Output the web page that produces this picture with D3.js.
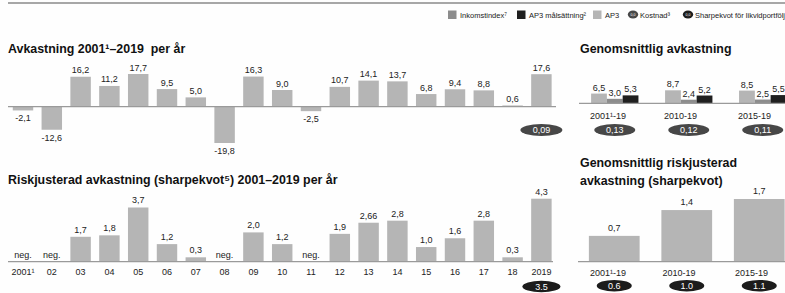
<!DOCTYPE html>
<html><head><meta charset="utf-8">
<script src="https://cdn.jsdelivr.net/npm/d3@7"></script>
<style>
html,body{margin:0;padding:0;background:#fff;}
svg{display:block;font-family:"Liberation Sans",Arial,Helvetica,sans-serif;}
text{white-space:pre;}
</style></head>
<body><svg id="c" width="785" height="293"></svg>
<script>
// ---- data ----
const years = ["2001¹","02","03","04","05","06","07","08","09","10","11","12","13","14","15","16","17","18","2019"];
const returns = [-2.1,-12.6,16.2,11.2,17.7,9.5,5.0,-19.8,16.3,9.0,-2.5,10.7,14.1,13.7,6.8,9.4,8.8,0.6,17.6];
const sharpe = [null,null,1.7,1.8,3.7,1.2,0.3,null,2.0,1.2,null,1.9,2.66,2.8,1.0,1.6,2.8,0.3,4.3];
const cost2019 = "0,09";
const liquidSharpe2019 = "3.5";
const periods = ["2001¹-19","2010-19","2015-19"];
const ap3Avg = [6.5,8.7,8.5];
const incomeIdx = [3.0,2.4,2.5];
const target = [5.3,5.2,5.5];
const costAvg = ["0,13","0,12","0,11"];
const avgSharpe = [0.7,1.4,1.7];
const liquidSharpeAvg = ["0.6","1.0","1.1"];
const legendItems = [
  {label:"Inkomstindex⁷", kind:"rect", key:"inc"},
  {label:"AP3 målsättning²", kind:"rect", key:"tgt"},
  {label:"AP3", kind:"rect", key:"ap3"},
  {label:"Kostnad³", kind:"ell", key:"cost"},
  {label:"Sharpekvot för likvidportfölj", kind:"ell", key:"liq"}
];

const C = {ap3:"#b5b5b5", inc:"#8c8c8c", tgt:"#1f1f1f", cost:"#474747", liq:"#1c1c1c", axis:"#9a9a9a", text:"#222"};
const fmt = v => (Math.abs(v*10 - Math.round(v*10))<1e-9 ? v.toFixed(1) : String(v)).replace(".",",");

const svg = d3.select("#c");
svg.append("rect").attr("width",785).attr("height",293).attr("fill","#fefefe");

// top rule
svg.append("line").attr("x1",8).attr("x2",785).attr("y1",3).attr("y2",3).attr("stroke","#8a8a8a").attr("stroke-width",1.5);

// legend
const legX = [448,517,593,628,683];
const lg = svg.append("g").attr("font-size",7.5).attr("fill",C.text);
legendItems.forEach((d,i)=>{
  const x = legX[i];
  if(d.kind==="rect"){
    lg.append("rect").attr("x",x).attr("y",10.5).attr("width",8.5).attr("height",8.5).attr("fill",C[d.key]);
    lg.append("text").attr("x",x+12).attr("y",17.5).text(d.label);
  } else {
    lg.append("ellipse").attr("cx",x+5).attr("cy",14.5).attr("rx",5.2).attr("ry",4).attr("fill",C[d.key]);
    lg.append("text").attr("x",x+5).attr("y",16).attr("text-anchor","middle").attr("font-size",3.5).attr("fill","#fff").text("0,0");
    lg.append("text").attr("x",x+12).attr("y",17.5).text(d.label);
  }
});

// titles
const title = (x,y,t) => svg.append("text").attr("x",x).attr("y",y).attr("font-size",12.4).attr("font-weight","bold").attr("fill","#111").text(t);
title(8,53,"Avkastning 2001¹–2019  per år");
title(580,53,"Genomsnittlig avkastning");
title(8,184,"Riskjusterad avkastning (sharpekvot⁵) 2001–2019 per år");
title(580,167,"Genomsnittlig riskjusterad");
title(580,184.5,"avkastning (sharpekvot)");

// ---- top-left: returns ----
const x = d3.scaleBand().domain(years).range([8.6,555.8]).paddingInner(0.29).paddingOuter(0.145);
const y1 = d3.scaleLinear().domain([-19.8,17.7]).range([143,74]);
const g1 = svg.append("g");
g1.selectAll("rect").data(returns).join("rect")
  .attr("x",(d,i)=>x(years[i])).attr("width",x.bandwidth())
  .attr("y",d=>y1(Math.max(0,d))).attr("height",d=>Math.abs(y1(d)-y1(0)))
  .attr("fill",C.ap3);
g1.append("line").attr("x1",8).attr("x2",556).attr("y1",y1(0)).attr("y2",y1(0)).attr("stroke",C.axis).attr("stroke-width",1.2);
g1.selectAll("text.v").data(returns).join("text").attr("class","v")
  .attr("x",(d,i)=>x(years[i])+x.bandwidth()/2)
  .attr("y",d=> d>=0 ? y1(d)-3.5 : y1(d)+11)
  .attr("text-anchor","middle").attr("font-size",9).attr("fill",C.text)
  .text(d=>fmt(d));
// cost ellipse 2019
const cx19 = x("2019")+x.bandwidth()/2;
svg.append("ellipse").attr("cx",cx19).attr("cy",130).attr("rx",21).attr("ry",6).attr("fill",C.cost);
svg.append("text").attr("x",cx19).attr("y",133.2).attr("text-anchor","middle").attr("font-size",9).attr("fill","#fff").text(cost2019);

// ---- bottom-left: sharpe ----
const y2 = d3.scaleLinear().domain([0,4.3]).range([261.7,198.7]);
const g2 = svg.append("g");
g2.selectAll("rect").data(sharpe).join("rect")
  .attr("x",(d,i)=>x(years[i])).attr("width",x.bandwidth())
  .attr("y",d=>y2(d||0)).attr("height",d=>y2(0)-y2(d||0))
  .attr("fill",C.ap3);
g2.append("line").attr("x1",8).attr("x2",553).attr("y1",y2(0)).attr("y2",y2(0)).attr("stroke",C.axis).attr("stroke-width",1.2);
g2.selectAll("text.v").data(sharpe).join("text").attr("class","v")
  .attr("x",(d,i)=>x(years[i])+x.bandwidth()/2)
  .attr("y",d=> d==null ? y2(0)-3.5 : y2(d)-4)
  .attr("text-anchor","middle").attr("font-size",9).attr("fill",C.text)
  .text(d=> d==null ? "neg." : fmt(d));
g2.selectAll("text.c").data(years).join("text").attr("class","c")
  .attr("x",d=>x(d)+x.bandwidth()/2).attr("y",275)
  .attr("text-anchor","middle").attr("font-size",9).attr("fill",C.text).text(d=>d);
svg.append("ellipse").attr("cx",cx19).attr("cy",286.5).attr("rx",19).attr("ry",5.8).attr("fill",C.liq);
svg.append("text").attr("x",cx19).attr("y",289.7).attr("text-anchor","middle").attr("font-size",9).attr("fill","#fff").text(liquidSharpe2019);

// ---- top-right: averages ----
const xg = d3.scaleBand().domain(periods).range([580,797.5]).paddingInner(0.36).paddingOuter(0.15);
const series = [{key:"ap3",vals:ap3Avg},{key:"inc",vals:incomeIdx},{key:"tgt",vals:target}];
const xs = d3.scaleBand().domain(series.map(s=>s.key)).range([0,xg.bandwidth()]);
const y3 = d3.scaleLinear().domain([0,8.7]).range([103.3,90.3]);
const g3 = svg.append("g");
periods.forEach((p,i)=>{
  series.forEach(s=>{
    const v = s.vals[i];
    g3.append("rect").attr("x",xg(p)+xs(s.key)).attr("width",xs.bandwidth())
      .attr("y",y3(v)).attr("height",y3(0)-y3(v)).attr("fill",C[s.key]);
    g3.append("text").attr("x",xg(p)+xs(s.key)+xs.bandwidth()/2).attr("y",y3(v)-3)
      .attr("text-anchor","middle").attr("font-size",9).attr("fill",C.text).text(fmt(v));
  });
  g3.append("text").attr("x",xg(p)-1).attr("y",118.5).attr("font-size",9).attr("fill",C.text).text(p);
  const cx = xg(p)+xg.bandwidth()/2;
  g3.append("ellipse").attr("cx",cx).attr("cy",130).attr("rx",20.5).attr("ry",6).attr("fill",C.cost);
  g3.append("text").attr("x",cx).attr("y",133.2).attr("text-anchor","middle").attr("font-size",9).attr("fill","#fff").text(costAvg[i]);
});
g3.append("line").attr("x1",579).attr("x2",785).attr("y1",y3(0)).attr("y2",y3(0)).attr("stroke",C.axis).attr("stroke-width",1.2);

// ---- bottom-right: avg sharpe ----
const xb = d3.scaleBand().domain(periods).range([578,795.5]).paddingInner(0.3).paddingOuter(0.15);
const y4 = d3.scaleLinear().domain([0,1.7]).range([261.7,199]);
const g4 = svg.append("g");
g4.selectAll("rect").data(avgSharpe).join("rect")
  .attr("x",(d,i)=>xb(periods[i])).attr("width",xb.bandwidth())
  .attr("y",d=>y4(d)).attr("height",d=>y4(0)-y4(d)).attr("fill",C.ap3);
g4.append("line").attr("x1",578).attr("x2",785).attr("y1",y4(0)).attr("y2",y4(0)).attr("stroke",C.axis).attr("stroke-width",1.2);
g4.selectAll("text.v").data(avgSharpe).join("text").attr("class","v")
  .attr("x",(d,i)=>xb(periods[i])+xb.bandwidth()/2).attr("y",d=>y4(d)-5)
  .attr("text-anchor","middle").attr("font-size",9).attr("fill",C.text).text(d=>fmt(d));
g4.selectAll("text.c").data(periods).join("text").attr("class","c")
  .attr("x",d=>xb(d)+1).attr("y",275.5).attr("font-size",9).attr("fill",C.text).text(d=>d);
periods.forEach((p,i)=>{
  const cx = xb(p)+xb.bandwidth()/2;
  g4.append("ellipse").attr("cx",cx).attr("cy",285.7).attr("rx",17.5).attr("ry",5.8).attr("fill",C.liq);
  g4.append("text").attr("x",cx).attr("y",289).attr("text-anchor","middle").attr("font-size",9).attr("fill","#fff").text(liquidSharpeAvg[i]);
});
</script></body></html>
